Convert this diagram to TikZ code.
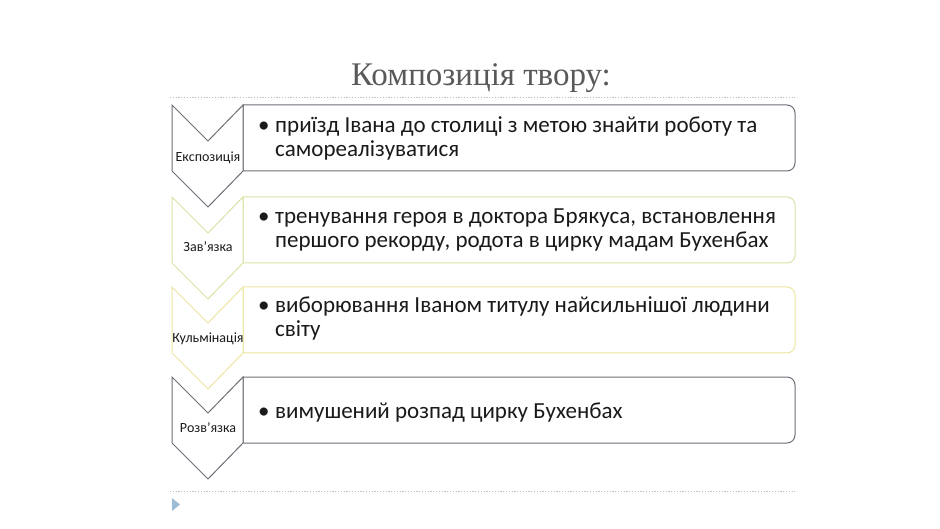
\documentclass[tikz,border=0pt]{standalone}
\usepackage{fontspec}
\setmainfont{Carlito}
\newfontfamily\titlefont{Liberation Serif}
\definecolor{grayline}{HTML}{6E6E78}
\definecolor{greenline}{HTML}{D8E4A6}
\definecolor{yellowline}{HTML}{ECE6A2}
\definecolor{dotcol}{HTML}{C0C0C0}
\definecolor{txt}{HTML}{1A1A1A}
\definecolor{titlecol}{HTML}{595959}
\definecolor{tri}{HTML}{9DBCD5}
\tikzset{
  chev/.style={line width=1pt, fill=white, line join=miter},
  boxst/.style={line width=1pt, fill=white},
  lbl/.style={font=\fontsize{14}{16}\selectfont, text=txt, inner sep=0pt, anchor=base},
  bul/.style={font=\fontsize{23}{24}\selectfont, text=txt, inner sep=0pt, anchor=base west},
  dotln/.style={dotcol, line width=0.8pt, dash pattern=on 1.2pt off 1.6pt},
}
\newcommand{\rowshape}[2]{%
  \draw[boxst,draw=#2] (243,-#1) -- (787,-#1) arc[start angle=90,end angle=0,radius=8] -- (795,-#1-58) arc[start angle=0,end angle=-90,radius=8] -- (243,-#1-66) -- cycle;
  \draw[chev,draw=#2] (172,-#1) -- (208,-#1-36) -- (243,-#1) -- (243,-#1-66) -- (208,-#1-102) -- (172,-#1-66) -- cycle;
}
\begin{document}
\begin{tikzpicture}[x=1pt,y=1pt]
\useasboundingbox (0,0) rectangle (940,-529);
\node[font=\titlefont\fontsize{33}{36}\selectfont, text=titlecol, inner sep=0pt, anchor=base] (title) at (481,-86) {Композиція твору:};
\draw[dotln] (170,-97) -- (795,-97);
\draw[dotln] (170,-491) -- (795,-491);
\fill[tri] (172,-498) -- (180,-504.5) -- (172,-511) -- cycle;
\rowshape{105}{grayline}
\rowshape{197}{greenline}
\rowshape{287}{yellowline}
\rowshape{377}{grayline}
\node[lbl] (l1) at (208,-162) {Експозиція};
\node[lbl] (l2) at (208,-252) {Зав'язка};
\node[lbl] (l3) at (208,-342) {Кульмінація};
\node[lbl] (l4) at (208,-432) {Розв'язка};
\node[bul] (b1) at (258,-133) {•};
\node[bul] (t1a) at (275,-133) {приїзд Івана до столиці з метою знайти роботу та};
\node[bul] (t1b) at (275,-157) {самореалізуватися};
\node[bul] (b2) at (258,-224) {•};
\node[bul] (t2a) at (275,-224) {тренування героя в доктора Брякуса, встановлення};
\node[bul] (t2b) at (275,-248) {першого рекорду, родота в цирку мадам Бухенбах};
\node[bul] (b3) at (258,-313) {•};
\node[bul] (t3a) at (275,-313) {виборювання Іваном титулу найсильнішої людини};
\node[bul] (t3b) at (275,-337) {світу};
\node[bul] (b4) at (258,-418) {•};
\node[bul] (t4a) at (275,-418) {вимушений розпад цирку Бухенбах};
\end{tikzpicture}
\end{document}
